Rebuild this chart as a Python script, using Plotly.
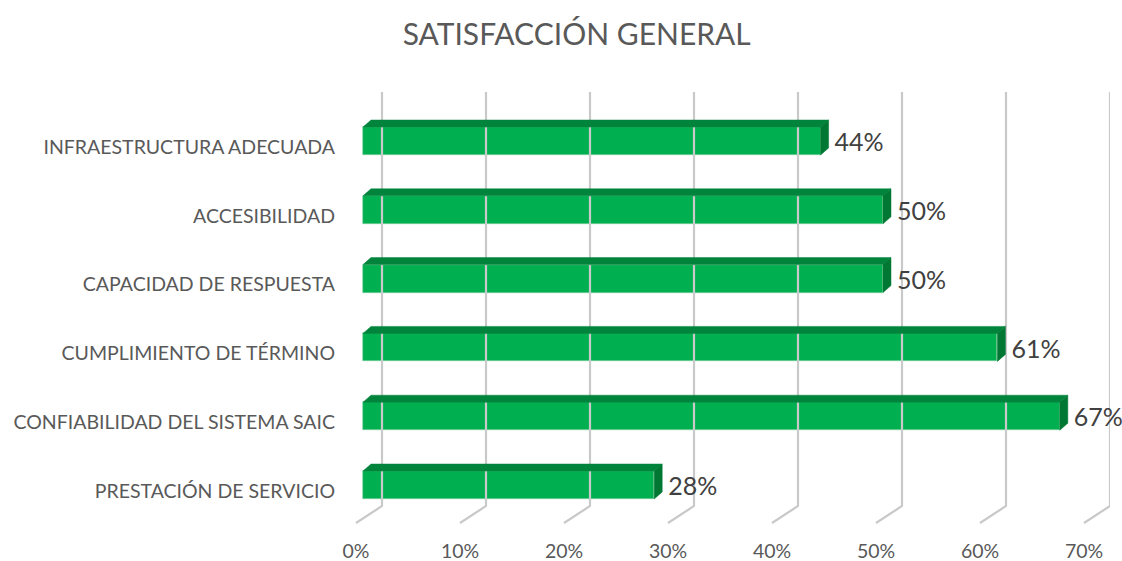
import plotly.graph_objects as go

# Survey results (bottom row first)
categories = [
    "PRESTACIÓN DE SERVICIO",
    "CONFIABILIDAD DEL SISTEMA SAIC",
    "CUMPLIMIENTO DE TÉRMINO",
    "CAPACIDAD DE RESPUESTA",
    "ACCESIBILIDAD",
    "INFRAESTRUCTURA ADECUADA",
]
values = [0.28, 0.67, 0.61, 0.50, 0.50, 0.44]
value_labels = ["28%", "67%", "61%", "50%", "50%", "44%"]
tick_values = [0.0, 0.1, 0.2, 0.3, 0.4, 0.5, 0.6, 0.7]
tick_labels = ["0%", "10%", "20%", "30%", "40%", "50%", "60%", "70%"]
title_text = "SATISFACCIÓN GENERAL"

# Canvas geometry (pixels) and the scale of each axis
W, H = 1122, 561
M_L, M_R, M_T, M_B = 340, 12, 60, 31
PX_X = 1040.0          # pixels per unit on the value axis
PX_Y = 68.8            # pixels per category step
X0_PX = 363            # where the value 0 sits on the front plane
Y0_PX = 485            # centre of the lowest bar

plot_w = W - M_L - M_R
plot_h = H - M_T - M_B
x_lo = (M_L - X0_PX) / PX_X
x_hi = x_lo + plot_w / PX_X
y_lo = (Y0_PX - (H - M_B)) / PX_Y
y_hi = (Y0_PX - M_T) / PX_Y


def dxp(px):
    return px / PX_X


def dyp(px):
    return px / PX_Y


BAR_H = dyp(28)           # thickness of a bar
DEPTH_X, DEPTH_Y = dxp(8), dyp(7)   # oblique depth of the bars
WALL_X = dxp(19)          # back wall offset
FLOOR_X = dxp(-7)         # front floor edge offset
WALL_TOP = dyp(Y0_PX - 92)
WALL_BOT = dyp(Y0_PX - 506)
FLOOR_Y = dyp(Y0_PX - 523)

GREEN = "#00B050"
GREEN_TOP = "#00843C"
GREEN_SIDE = "#007833"
GRID = "#C9C9C9"
TEXT = "#595959"
FONT = "Lato, 'Open Sans', sans-serif"

fig = go.Figure()

# Gridlines: vertical on the back wall, then a diagonal across the floor
gx, gy = [], []
for t in tick_values:
    gx += [t + WALL_X, t + WALL_X, t + FLOOR_X, None]
    gy += [WALL_TOP, WALL_BOT, FLOOR_Y, None]
fig.add_trace(go.Scatter(x=gx, y=gy, mode="lines",
                         line=dict(color=GRID, width=2.2),
                         hoverinfo="skip", showlegend=False))

ypos = list(range(len(categories)))

# Front faces of the bars
fig.add_trace(go.Bar(
    x=values, y=ypos, orientation="h", width=BAR_H,
    marker=dict(color=GREEN, line=dict(color="#7FCF9F", width=0.6)),
    showlegend=False, hoverinfo="skip"))

# Top and side faces, built from each bar's value
for i, v in enumerate(values):
    top = i + BAR_H / 2
    bot = i - BAR_H / 2
    fig.add_trace(go.Scatter(
        x=[0, DEPTH_X, v + DEPTH_X, v, 0],
        y=[top, top + DEPTH_Y, top + DEPTH_Y, top, top],
        mode="lines", fill="toself", fillcolor=GREEN_TOP,
        line=dict(color=GREEN_TOP, width=0.5),
        hoverinfo="skip", showlegend=False))
    fig.add_trace(go.Scatter(
        x=[v, v + DEPTH_X, v + DEPTH_X, v, v],
        y=[bot, bot + DEPTH_Y, top + DEPTH_Y, top, bot],
        mode="lines", fill="toself", fillcolor=GREEN_SIDE,
        line=dict(color=GREEN_SIDE, width=0.5),
        hoverinfo="skip", showlegend=False))

# Value labels at the end of each bar
fig.add_trace(go.Scatter(
    x=[v + DEPTH_X + dxp(6) for v in values],
    y=[i - dyp(4) for i in ypos],
    mode="text", text=value_labels, textposition="middle right",
    textfont=dict(family=FONT, size=25, color="#404040"),
    cliponaxis=False, hoverinfo="skip", showlegend=False))

fig.update_layout(
    width=W, height=H,
    margin=dict(l=M_L, r=M_R, t=M_T, b=M_B, autoexpand=False),
    paper_bgcolor="white", plot_bgcolor="white",
    title=dict(text=title_text, x=0.514, xanchor="center",
               y=0.938, yanchor="middle",
               font=dict(family=FONT, size=30, color=TEXT)),
    xaxis=dict(range=[x_lo, x_hi], tickvals=tick_values, ticktext=tick_labels,
               showgrid=False, zeroline=False, showline=False, ticks="",
               automargin=False,
               ticklabelshift=-7, ticklabelstandoff=7,
               tickfont=dict(family=FONT, size=19.5, color=TEXT)),
    yaxis=dict(range=[y_lo, y_hi], tickvals=ypos, ticktext=categories,
               showgrid=False, zeroline=False, showline=False, ticks="",
               automargin=False,
               ticklabelshift=6, ticklabelstandoff=4,
               tickfont=dict(family=FONT, size=19.5, color=TEXT)),
    bargap=0,
)

fig.write_html("out.html")
